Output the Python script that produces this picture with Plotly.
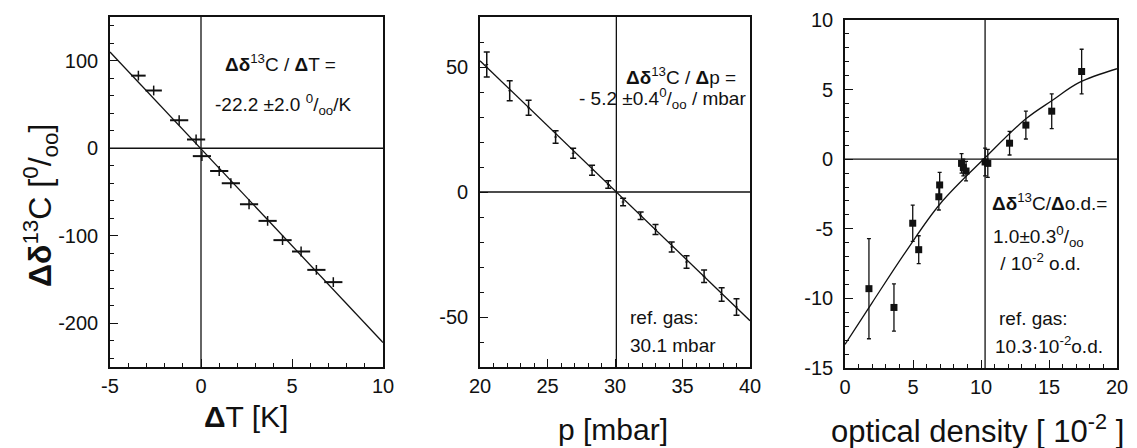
import plotly.graph_objects as go

# ---------------- data ----------------
# Panel 1: temperature
dT = [-3.44, -2.6, -1.2, -0.27, 0.05, 1.0, 1.64, 2.64, 3.66, 4.48, 5.5, 6.34, 7.27]
d13C_T = [83, 66, 32, 10, -9, -26, -40, -64, -83, -105, -118, -139, -153]
dT_err = [0.4, 0.45, 0.5, 0.5, 0.5, 0.5, 0.5, 0.5, 0.5, 0.5, 0.5, 0.5, 0.5]
fitT_x = [-5, 10]
fitT_y = [110, -222]
ref_T = 0

# Panel 2: pressure
p = [20.5, 22.2, 23.6, 25.6, 26.9, 28.3, 29.5, 30.6, 31.9, 33.0, 34.2, 35.3, 36.6, 37.9, 39.0]
d13C_p = [51, 40.5, 33.7, 22, 15.5, 8.7, 3, -4, -9.5, -15, -22, -28, -33.7, -41, -46]
p_err = [5, 4, 3, 2.5, 2, 2, 1.5, 1.5, 1.5, 2, 2, 2.5, 2.5, 2.7, 3.3]
fitp_x = [20, 40]
fitp_y = [52.5, -51.5]
ref_p = 30.1

# Panel 3: optical density
od = [1.76, 3.6, 4.98, 5.42, 6.9, 6.96, 8.57, 8.7, 8.9, 10.3, 10.5, 12.1, 13.3, 15.2, 17.4]
d13C_od = [-9.3, -10.65, -4.6, -6.5, -2.7, -1.85, -0.3, -0.6, -0.85, -0.2, -0.3, 1.15, 2.45, 3.45, 6.3]
od_err = [3.6, 1.7, 1.3, 1.0, 0.95, 0.9, 0.7, 0.6, 0.7, 1.0, 1.0, 0.85, 1.0, 1.25, 1.6]
fitod_x = [0, 2, 4.5, 7, 10.3, 13.3, 15.2, 17.2, 20]
fitod_y = [-13.3, -10.3, -6.6, -3.2, 0.1, 2.9, 4.2, 5.5, 6.5]
ref_od = 10.3

# tick labels
xt1 = [-5, 0, 5, 10]
yt1 = [100, 0, -100, -200]
xt2 = [20, 25, 30, 35, 40]
yt2 = [50, 0, -50]
xt3 = [0, 5, 10, 15, 20]
yt3 = [10, 5, 0, -5, -10, -15]

# ---------------- figure ----------------
W, H = 1137, 448
INK = "#111111"
FONT = "Liberation Sans, Arial, sans-serif"

def px(x):
    return x / W

def py(y):
    return 1 - y / H

fig = go.Figure()

# fit lines
fig.add_trace(go.Scatter(x=fitT_x, y=fitT_y, mode="lines", line=dict(color=INK, width=1.3),
                         xaxis="x", yaxis="y", hoverinfo="skip"))
fig.add_trace(go.Scatter(x=fitp_x, y=fitp_y, mode="lines", line=dict(color=INK, width=1.3),
                         xaxis="x2", yaxis="y2", hoverinfo="skip"))
fig.add_trace(go.Scatter(x=fitod_x, y=fitod_y, mode="lines",
                         line=dict(color=INK, width=1.3, shape="spline", smoothing=1.0),
                         xaxis="x3", yaxis="y3", hoverinfo="skip"))

# data points
fig.add_trace(go.Scatter(x=dT, y=d13C_T, mode="markers",
                         marker=dict(symbol="line-ns", size=7, line=dict(color=INK, width=1.5)),
                         error_x=dict(type="data", array=dT_err, color=INK, thickness=2, width=0),
                         xaxis="x", yaxis="y"))
fig.add_trace(go.Scatter(x=p, y=d13C_p, mode="markers",
                         marker=dict(symbol="line-ew", size=2, line=dict(color=INK, width=1)),
                         error_y=dict(type="data", array=p_err, color=INK, thickness=1.5, width=3),
                         xaxis="x2", yaxis="y2"))
fig.add_trace(go.Scatter(x=od, y=d13C_od, mode="markers",
                         marker=dict(symbol="square", size=7, color=INK),
                         error_y=dict(type="data", array=od_err, color=INK, thickness=1.3, width=2),
                         xaxis="x3", yaxis="y3"))

# reference lines (zero / reference gas)
for xa, ya, xr in [("x", "y", ref_T), ("x2", "y2", ref_p), ("x3", "y3", ref_od)]:
    fig.add_shape(type="line", xref=xa, yref=ya + " domain", x0=xr, x1=xr, y0=0, y1=1,
                  line=dict(color=INK, width=1.3))
    fig.add_shape(type="line", xref=xa + " domain", yref=ya, x0=0, x1=1, y0=0, y1=0,
                  line=dict(color=INK, width=1.3))

def axis(domain, rng, tickvals, minor_dtick, anchor):
    return dict(domain=domain, range=rng, tickvals=tickvals, ticktext=[str(v) for v in tickvals],
                ticks="inside", ticklen=8, tickwidth=1.3, tickcolor=INK,
                minor=dict(ticks="inside", dtick=minor_dtick, ticklen=4, tickwidth=1, tickcolor=INK,
                           tick0=0, showgrid=False),
                showline=True, linecolor=INK, linewidth=1.6, mirror=True,
                showgrid=False, zeroline=False, anchor=anchor, automargin=False,
                tickfont=dict(family=FONT, size=20, color=INK))

yd12 = [py(367), py(17)]
yd3 = [py(368), py(20)]
fig.update_layout(
    width=W, height=H, margin=dict(l=0, r=0, t=0, b=0, autoexpand=False),
    paper_bgcolor="white", plot_bgcolor="white", showlegend=False,
    font=dict(family=FONT, color=INK),
    xaxis=axis([px(110), px(383)], [-5, 10], xt1, 1, "y"),
    yaxis=axis(yd12, [-250, 150], yt1, 20, "x"),
    xaxis2=axis([px(480), px(750)], [20, 40], xt2, 1, "y2"),
    yaxis2=axis(yd12, [-70, 70], yt2, 10, "x2"),
    xaxis3=axis([px(845), px(1117)], [0, 20], xt3, 1, "y3"),
    yaxis3=axis(yd3, [-15, 10], yt3, 1, "x3"),
)
for k in ["yaxis", "yaxis2", "yaxis3"]:
    fig.layout[k].ticklabelstandoff = 6

def note(text, x, y, size=19, anchor="left", angle=0):
    fig.add_annotation(text=text, xref="paper", yref="paper", x=px(x), y=py(y),
                       xanchor=anchor, yanchor="middle", showarrow=False, textangle=angle,
                       font=dict(family=FONT, size=size, color=INK))

# axis titles
note("<b>Δδ</b><sup>13</sup>C [<sup>0</sup>/<sub>oo</sub>]", 40, 206, size=32, anchor="center", angle=-90)
note("<b>Δ</b>T [K]", 246, 416, size=30, anchor="center")
note("p [mbar]", 613, 429, size=30, anchor="center")
note("optical density [ 10<sup>-2</sup> ]", 977, 429, size=31, anchor="center")

# in-plot texts
note("<b>Δδ</b><sup>13</sup>C / <b>Δ</b>T =", 223, 63)
note("-22.2 ±2.0 <sup>0</sup>/<sub>oo</sub>/K", 213, 104)
note("<b>Δδ</b><sup>13</sup>C / <b>Δ</b>p =", 624, 76)
note("- 5.2 ±0.4<sup>0</sup>/<sub>oo</sub> / mbar", 577, 99)
note("ref. gas:", 628, 317)
note("30.1 mbar", 628, 345)
note("<b>Δδ</b><sup>13</sup>C/<b>Δ</b>o.d.=", 990, 202)
note("1.0±0.3<sup>0</sup>/<sub>oo</sub>", 991, 237)
note(" / 10<sup>-2</sup> o.d.", 993, 262)
note("ref. gas:", 997, 318)
note("10.3·10<sup>-2</sup>o.d.", 993, 345)

# the page is photographed at exactly the figure size: drop the default body margin
fig.write_html("out.html", config={"displayModeBar": False},
               post_script="document.body.style.margin='0';document.body.style.overflow='hidden';")
